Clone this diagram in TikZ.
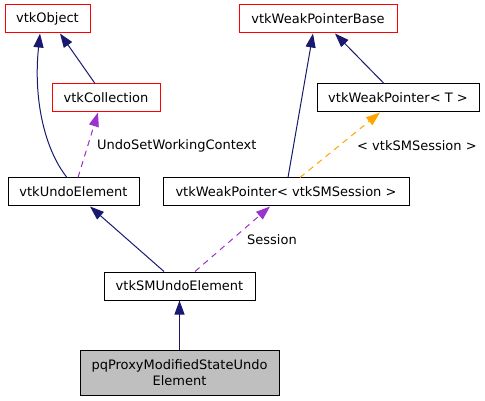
\documentclass[tikz,border=0pt]{standalone}
\usepackage{fontspec}
\setmainfont{DejaVu Sans}
\usepackage{tikz}
\usetikzlibrary{arrows.meta}
\definecolor{edgeblue}{HTML}{191970}
\definecolor{usepurple}{HTML}{9A32CD}
\definecolor{tmplorange}{HTML}{FFA500}
\definecolor{boxgray}{HTML}{BFBFBF}
\tikzset{
  cls/.style={draw=black, line width=1pt, inner sep=0pt, minimum height=28pt,
    font=\fontsize{13}{16}\selectfont, align=center},
  trunc/.style={cls, draw=red},
  inherit/.style={draw=edgeblue, line width=1pt, -{Triangle[length=14pt,width=10pt]}},
  uses/.style={draw=usepurple, line width=1pt, dash pattern=on 6pt off 5pt,
    -{Triangle[length=14pt,width=10pt]}},
  tmpl/.style={draw=tmplorange, line width=1pt, dash pattern=on 6pt off 5pt,
    -{Triangle[length=14pt,width=10pt]}},
  lbl/.style={inner sep=0pt, anchor=west, font=\fontsize{13}{16}\selectfont}
}
\begin{document}
\begin{tikzpicture}[x=1pt, y=-1pt]
\useasboundingbox (0,0) rectangle (485,401);
% classes
\node[trunc, minimum width=85pt] (obj) at (47.5,19) {vtkObject};
\node[trunc, minimum width=108pt] (coll) at (106,98) {vtkCollection};
\node[cls, minimum width=131pt] (undo) at (73.5,192) {vtkUndoElement};
\node[trunc, minimum width=158pt] (wpb) at (318,19) {vtkWeakPointerBase};
\node[cls, minimum width=162pt] (wpt) at (398,98) {vtkWeakPointer< T >};
\node[cls, minimum width=246pt] (wps) at (286,192) {vtkWeakPointer< vtkSMSession >};
\node[cls, minimum width=151pt] (smundo) at (179.5,286) {vtkSMUndoElement};
\node[cls, fill=boxgray, minimum width=199pt, minimum height=45pt] (pq) at (179.5,372.5)
  {pqProxyModifiedStateUndo\\Element};
% inheritance
\draw[inherit] ([xshift=-6.5pt]undo.north) .. controls (45,150) and (33,100) .. ([xshift=-7.5pt]obj.south);
\draw[inherit] ([xshift=-11pt]coll.north) -- ([xshift=12.5pt]obj.south);
\draw[inherit] ([xshift=2pt]wps.north) -- ([xshift=-5pt]wpb.south);
\draw[inherit] ([xshift=-14pt]wpt.north) -- ([xshift=17pt]wpb.south);
\draw[inherit] ([xshift=-15.5pt]smundo.north) -- ([xshift=16.5pt]undo.south);
\draw[inherit] (pq.north) -- (smundo.south);
% usage and templates
\draw[uses] ([xshift=4.5pt]undo.north) -- ([xshift=-8pt]coll.south);
\node[lbl] (lwork) at (97,146) {UndoSetWorkingContext};
\draw[tmpl] ([xshift=14pt]wps.north) -- ([xshift=-18pt]wpt.south);
\node[lbl] (lsess) at (357,146) {< vtkSMSession >};
\draw[uses] ([xshift=15.5pt]smundo.north) -- ([xshift=-16pt]wps.south);
\node[lbl] (lsession) at (247,240) {Session};
\end{tikzpicture}
\end{document}
